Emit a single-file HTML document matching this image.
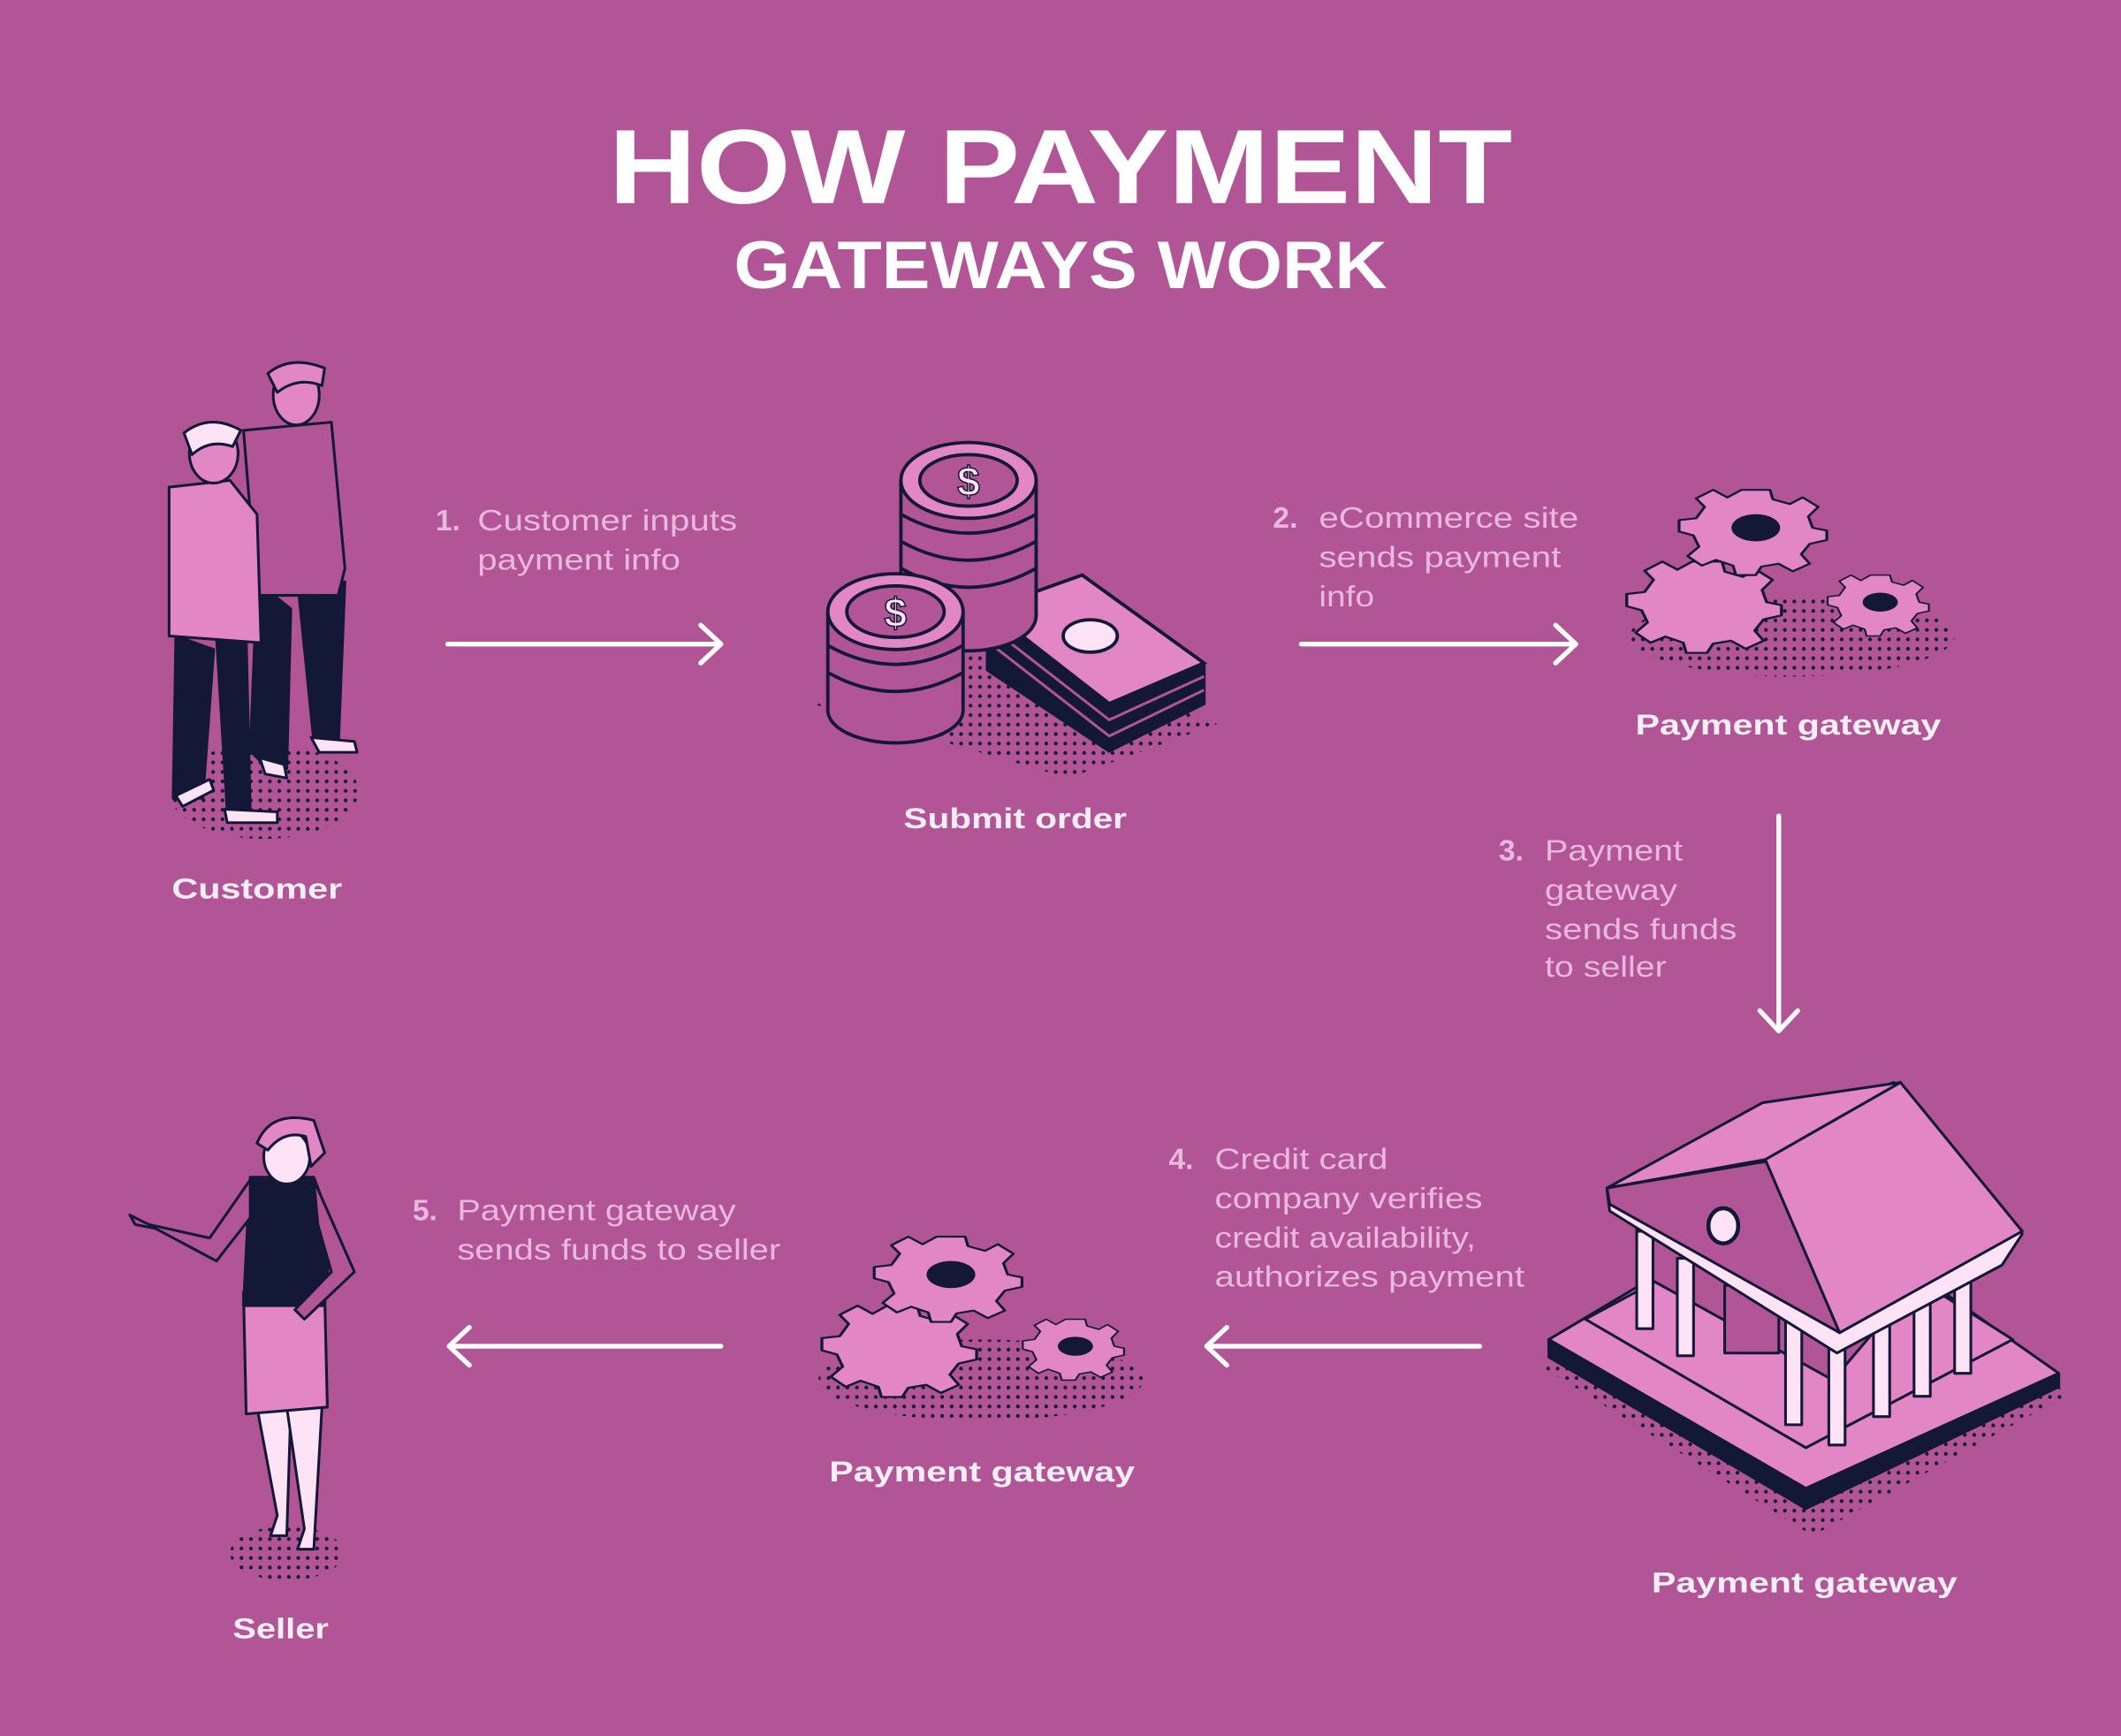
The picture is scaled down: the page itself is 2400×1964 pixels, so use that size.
<!DOCTYPE html>
<html><head><meta charset="utf-8"><style>
html,body{margin:0;padding:0;background:#B25596;}
svg{display:block}
text{font-family:"Liberation Sans",sans-serif}
</style></head><body>
<svg width="2400" height="1964" viewBox="0 0 1568 1283" xmlns="http://www.w3.org/2000/svg">
<defs>
<pattern id="dots" width="7" height="7" patternUnits="userSpaceOnUse"><circle cx="3.5" cy="3.5" r="1.4" fill="#141837"/></pattern>
<g id="gear">
<path d="M-10,-40 L10,-40 L12,-30 L24,-25 L33,-32 L44,-22 L37,-12 L40,0 L50,3 L50,13 L38,17 L32,28 L38,38 L26,46 L16,38 L4,41 L0,50 L-14,50 L-16,40 L-28,34 L-38,40 L-48,30 L-40,20 L-44,8 L-54,4 L-54,-8 L-42,-10 L-36,-22 L-42,-31 L-30,-40 L-20,-32 Z" fill="#E286C5" stroke="#141837" stroke-width="2" stroke-linejoin="round"/>
</g>
</defs>
<rect width="1568" height="1283" fill="#B25596"/>

<text x="784" y="150" text-anchor="middle" font-size="78" font-weight="bold" fill="#fff" textLength="668" lengthAdjust="spacingAndGlyphs">HOW PAYMENT</text>
<text x="784" y="213" text-anchor="middle" font-size="50" font-weight="bold" fill="#fff" textLength="483" lengthAdjust="spacingAndGlyphs">GATEWAYS WORK</text>

<g font-size="22" fill="#E9B8DD" lengthAdjust="spacingAndGlyphs">
<text x="322" y="392" font-weight="bold">1.</text>
<text x="353" y="392" textLength="192" lengthAdjust="spacingAndGlyphs">Customer inputs</text>
<text x="353" y="421" textLength="150" lengthAdjust="spacingAndGlyphs">payment info</text>
<text x="941" y="390" font-weight="bold">2.</text>
<text x="975" y="390" textLength="192" lengthAdjust="spacingAndGlyphs">eCommerce site</text>
<text x="975" y="419" textLength="179" lengthAdjust="spacingAndGlyphs">sends payment</text>
<text x="975" y="448" textLength="41" lengthAdjust="spacingAndGlyphs">info</text>
<text x="1108" y="636" font-weight="bold">3.</text>
<text x="1142" y="636" textLength="102" lengthAdjust="spacingAndGlyphs">Payment</text>
<text x="1142" y="665" textLength="98" lengthAdjust="spacingAndGlyphs">gateway</text>
<text x="1142" y="694" textLength="142" lengthAdjust="spacingAndGlyphs">sends funds</text>
<text x="1142" y="722" textLength="90" lengthAdjust="spacingAndGlyphs">to seller</text>
<text x="864" y="864" font-weight="bold">4.</text>
<text x="898" y="864" textLength="128" lengthAdjust="spacingAndGlyphs">Credit card</text>
<text x="898" y="893" textLength="198" lengthAdjust="spacingAndGlyphs">company verifies</text>
<text x="898" y="922" textLength="193" lengthAdjust="spacingAndGlyphs">credit availability,</text>
<text x="898" y="951" textLength="229" lengthAdjust="spacingAndGlyphs">authorizes payment</text>
<text x="305" y="902" font-weight="bold">5.</text>
<text x="338" y="902" textLength="206" lengthAdjust="spacingAndGlyphs">Payment gateway</text>
<text x="338" y="931" textLength="239" lengthAdjust="spacingAndGlyphs">sends funds to seller</text>
</g>

<g font-size="21" font-weight="bold" fill="#F6EEF6">
<text x="127" y="664" textLength="126" lengthAdjust="spacingAndGlyphs">Customer</text>
<text x="668" y="612" textLength="165" lengthAdjust="spacingAndGlyphs">Submit order</text>
<text x="1209" y="543" textLength="226" lengthAdjust="spacingAndGlyphs">Payment gateway</text>
<text x="613" y="1095" textLength="226" lengthAdjust="spacingAndGlyphs">Payment gateway</text>
<text x="1221" y="1177" textLength="226" lengthAdjust="spacingAndGlyphs">Payment gateway</text>
<text x="172" y="1211" textLength="71" lengthAdjust="spacingAndGlyphs">Seller</text>
</g>

<g stroke="#fff" stroke-width="3.5" fill="none" stroke-linecap="round" stroke-linejoin="round">
<path d="M331 476 H533 M518 462 L533 476 L518 490"/>
<path d="M962 476 H1165 M1150 462 L1165 476 L1150 490"/>
<path d="M1315 603 V762 M1301 747 L1315 762 L1329 747"/>
<path d="M1094 995 H892 M907 981 L892 995 L907 1009"/>
<path d="M533 995 H332 M347 981 L332 995 L347 1009"/>
</g>

<!-- Customer -->
<ellipse cx="195" cy="585" rx="70" ry="35" fill="url(#dots)"/>
<g stroke="#141837" stroke-width="2" stroke-linejoin="round">
<path d="M190 430 L185 555 L200 570 L212 568 L215 450 Z" fill="#141837"/>
<path d="M220 430 L232 548 L250 555 L255 430 Z" fill="#141837"/>
<path d="M180 318 L245 312 L255 420 L250 440 L190 440 Z" fill="#B25596"/>
<path d="M230 545 L262 548 L264 556 L236 556 Z" fill="#FDE3F5"/>
<path d="M192 560 L210 565 L212 575 L196 572 Z" fill="#FDE3F5"/>
<ellipse cx="219" cy="292" rx="17" ry="22" fill="#E286C5"/>
<path d="M198 276 Q215 262 240 272 L238 285 Q220 278 205 290 Z" fill="#E286C5"/>
<path d="M130 470 L128 590 L150 590 L158 480 Z" fill="#141837"/>
<path d="M160 470 L168 600 L185 600 L182 470 Z" fill="#141837"/>
<path d="M125 360 L170 355 L190 380 L193 475 L125 470 Z" fill="#E286C5"/>
<path d="M166 598 L205 600 L205 608 L168 608 Z" fill="#FDE3F5"/>
<path d="M130 588 L155 576 L158 584 L135 596 Z" fill="#FDE3F5"/>
<ellipse cx="158" cy="335" rx="18" ry="22" fill="#E286C5"/>
<path d="M136 320 Q155 305 178 318 L172 330 Q155 324 142 336 Z" fill="#FDE3F5"/>
</g>

<!-- Coins & bills -->
<polygon points="600,520 720,470 900,535 790,575" fill="url(#dots)"/>
<g stroke="#141837" stroke-width="2.5">
<path d="M730 450 L800 425 L890 490 L890 520 L820 555 L730 495 Z" fill="#141837"/>
<path d="M730 450 L800 425 L890 490 L820 520 Z" fill="#E286C5"/>
<path d="M730 462 L820 532 L890 500 M730 474 L820 544 L890 510" fill="none" stroke="#B25596" stroke-width="2"/>
<ellipse cx="806" cy="470" rx="20" ry="12" fill="#FDE3F5"/>
</g>
<g stroke="#141837" stroke-width="2.5">
<rect x="666" y="355" width="100" height="100" fill="#B25596" stroke="none"/>
<ellipse cx="716" cy="455" rx="50" ry="26" fill="#B25596"/>
<rect x="666" y="355" width="100" height="100" fill="#B25596" stroke="none"/>
<line x1="666" y1="355" x2="666" y2="455"/><line x1="766" y1="355" x2="766" y2="455"/>
<path d="M666 380 Q716 408 766 380 M666 400 Q716 428 766 400 M666 420 Q716 448 766 420" fill="none"/>
<ellipse cx="716" cy="355" rx="50" ry="28" fill="#E286C5"/>
<ellipse cx="716" cy="355" rx="36" ry="19" fill="#B25596"/>
<text x="716" y="366" text-anchor="middle" font-size="30" font-weight="bold" fill="#FDE3F5" stroke="#141837" stroke-width="1">$</text>
<rect x="612" y="452" width="100" height="73" fill="#B25596" stroke="none"/>
<ellipse cx="662" cy="525" rx="50" ry="24" fill="#B25596"/>
<rect x="612" y="452" width="100" height="73" fill="#B25596" stroke="none"/>
<line x1="612" y1="452" x2="612" y2="525"/><line x1="712" y1="452" x2="712" y2="525"/>
<path d="M612 477 Q662 505 712 477 M612 497 Q662 525 712 497" fill="none"/>
<ellipse cx="662" cy="452" rx="50" ry="28" fill="#E286C5"/>
<ellipse cx="662" cy="452" rx="36" ry="19" fill="#B25596"/>
<text x="662" y="463" text-anchor="middle" font-size="30" font-weight="bold" fill="#FDE3F5" stroke="#141837" stroke-width="1">$</text>
</g>

<!-- Gears 1 -->
<ellipse cx="1325" cy="470" rx="120" ry="30" fill="url(#dots)"/>
<g transform="translate(1262,445) scale(1.1,0.75)"><use href="#gear"/></g>
<g transform="translate(1298,390) scale(1.05,0.7)"><use href="#gear"/></g>
<ellipse cx="1298" cy="390" rx="18" ry="10" fill="#141837"/>
<g transform="translate(1390,445) scale(0.72,0.5)"><use href="#gear"/></g>
<ellipse cx="1390" cy="445" rx="13" ry="7" fill="#141837"/>

<!-- Gears 2 -->
<ellipse cx="725" cy="1020" rx="120" ry="30" fill="url(#dots)"/>
<g transform="translate(667,995) scale(1.1,0.75)"><use href="#gear"/></g>
<g transform="translate(703,942) scale(1.05,0.7)"><use href="#gear"/></g>
<ellipse cx="703" cy="942" rx="18" ry="10" fill="#141837"/>
<g transform="translate(795,995) scale(0.72,0.5)"><use href="#gear"/></g>
<ellipse cx="795" cy="995" rx="13" ry="7" fill="#141837"/>

<!-- Bank -->
<polygon points="1140,1010 1340,1135 1530,1030 1330,915" fill="url(#dots)"/>
<g stroke="#141837" stroke-width="2" stroke-linejoin="round">
<polygon points="1145,990 1335,1100 1522,1015 1522,1025 1335,1115 1145,1003" fill="#141837"/>
<polygon points="1145,990 1330,880 1522,1015 1335,1100" fill="#E286C5"/>
<polygon points="1172,975 1330,890 1488,990 1335,1070" fill="#E286C5"/>
<polygon points="1210,900 1330,850 1440,920 1355,1020 1210,940" fill="#B25596"/>
<g fill="#FDE3F5">
<rect x="1210" y="910" width="12" height="72"/><rect x="1240" y="930" width="12" height="72"/>
<rect x="1320" y="975" width="12" height="78"/><rect x="1352" y="990" width="12" height="78"/>
<rect x="1385" y="975" width="12" height="72"/><rect x="1415" y="960" width="12" height="72"/>
<rect x="1445" y="945" width="12" height="70"/>
</g>
<rect x="1275" y="950" width="40" height="50" fill="#B25596"/>
<polygon points="1188,880 1400,800 1495,912 1480,935 1358,1000 1190,895" fill="#FDE3F5"/>
<polygon points="1188,878 1308,858 1360,985 1190,890" fill="#B25596"/>
<polygon points="1305,857 1405,800 1495,910 1360,985" fill="#E286C5"/>
<polygon points="1188,878 1303,815 1405,800 1305,857" fill="#E286C5"/>
<ellipse cx="1274" cy="906" rx="11" ry="13" fill="#FDE3F5" stroke-width="3"/>
</g>

<!-- Seller -->
<ellipse cx="212" cy="1148" rx="42" ry="20" fill="url(#dots)"/>
<g stroke="#141837" stroke-width="2" stroke-linejoin="round">
<path d="M190 1040 L205 1120 L200 1135 L212 1135 L215 1040 Z" fill="#FDE3F5"/>
<path d="M212 1040 L225 1130 L220 1145 L232 1145 L238 1040 Z" fill="#FDE3F5"/>
<path d="M180 955 L240 955 L242 1040 L182 1045 Z" fill="#E286C5"/>
<path d="M185 870 L232 870 L245 905 L240 965 L180 965 L183 905 Z" fill="#141837"/>
<path d="M185 872 L155 915 L110 905 L96 898 L100 905 L115 908 L160 932 L185 900 Z" fill="#B25596"/>
<path d="M232 872 L262 940 L225 975 L218 968 L245 940 L235 905 Z" fill="#B25596"/>
<ellipse cx="212" cy="855" rx="17" ry="20" fill="#FDE3F5"/>
<path d="M190 845 Q200 820 232 828 L240 852 L230 862 L226 840 Q210 835 198 850 Z" fill="#E286C5"/>
</g>
</svg>
</body></html>
